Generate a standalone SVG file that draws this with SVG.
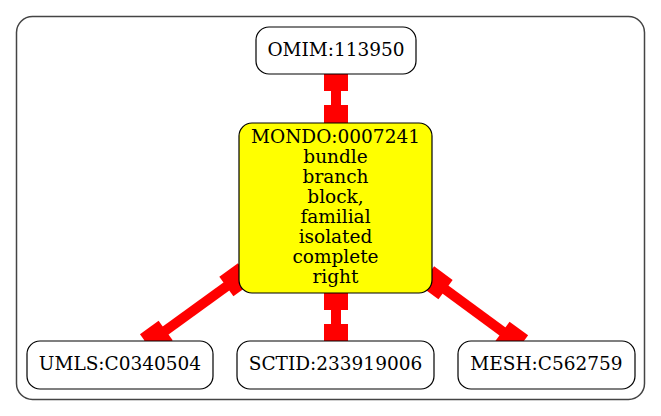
<svg xmlns="http://www.w3.org/2000/svg" width="661" height="416" viewBox="0 0 661 416">
<style>
.node rect{fill:#fff;stroke:#000;stroke-width:1.2}
#mondo rect{fill:#ffff00}
text{font-family:"DejaVu Serif","Liberation Serif",serif;font-size:18.5px;fill:#000;text-anchor:middle}
.edge{stroke:#ff0000;stroke-width:10;fill:none;marker-start:url(#box);marker-end:url(#box)}
</style>
<defs>
<marker id="box" markerUnits="userSpaceOnUse" viewBox="-23 -12 23 24" refX="0" refY="0" markerWidth="23" markerHeight="24" orient="auto-start-reverse" overflow="visible">
<rect x="-23" y="-12" width="23" height="24" fill="#ff0000"/>
</marker>
</defs>
<rect x="16.5" y="16.5" width="628" height="383" rx="16" ry="16" fill="#fff" stroke="#444" stroke-width="1.5"/>
<g id="connectors">
<path class="edge" d="M336,68 L336,128"/>
<path class="edge" d="M336,287 L336,347"/>
<path class="edge" d="M245,273 L147,344"/>
<path class="edge" d="M427,276 L521,345"/>
</g>
<g id="omim" class="node">
<rect x="256" y="27" width="160" height="47" rx="13" ry="13"/>
<text x="336" y="56">OMIM:113950</text>
</g>
<g id="mondo" class="node">
<rect x="239" y="123" width="193" height="170" rx="13" ry="13"/>
<text x="335.5" y="143">MONDO:0007241</text>
<text x="335.5" y="163">bundle</text>
<text x="335.5" y="183">branch</text>
<text x="335.5" y="203">block,</text>
<text x="335.5" y="223">familial</text>
<text x="335.5" y="243">isolated</text>
<text x="335.5" y="263">complete</text>
<text x="335.5" y="283">right</text>
</g>
<g id="umls" class="node">
<rect x="27" y="341" width="186" height="48" rx="13" ry="13"/>
<text x="120" y="370">UMLS:C0340504</text>
</g>
<g id="sctid" class="node">
<rect x="237" y="341" width="197" height="48" rx="13" ry="13"/>
<text x="335.5" y="370">SCTID:233919006</text>
</g>
<g id="mesh" class="node">
<rect x="458" y="341" width="177" height="48" rx="13" ry="13"/>
<text x="546.5" y="370">MESH:C562759</text>
</g>
</svg>
